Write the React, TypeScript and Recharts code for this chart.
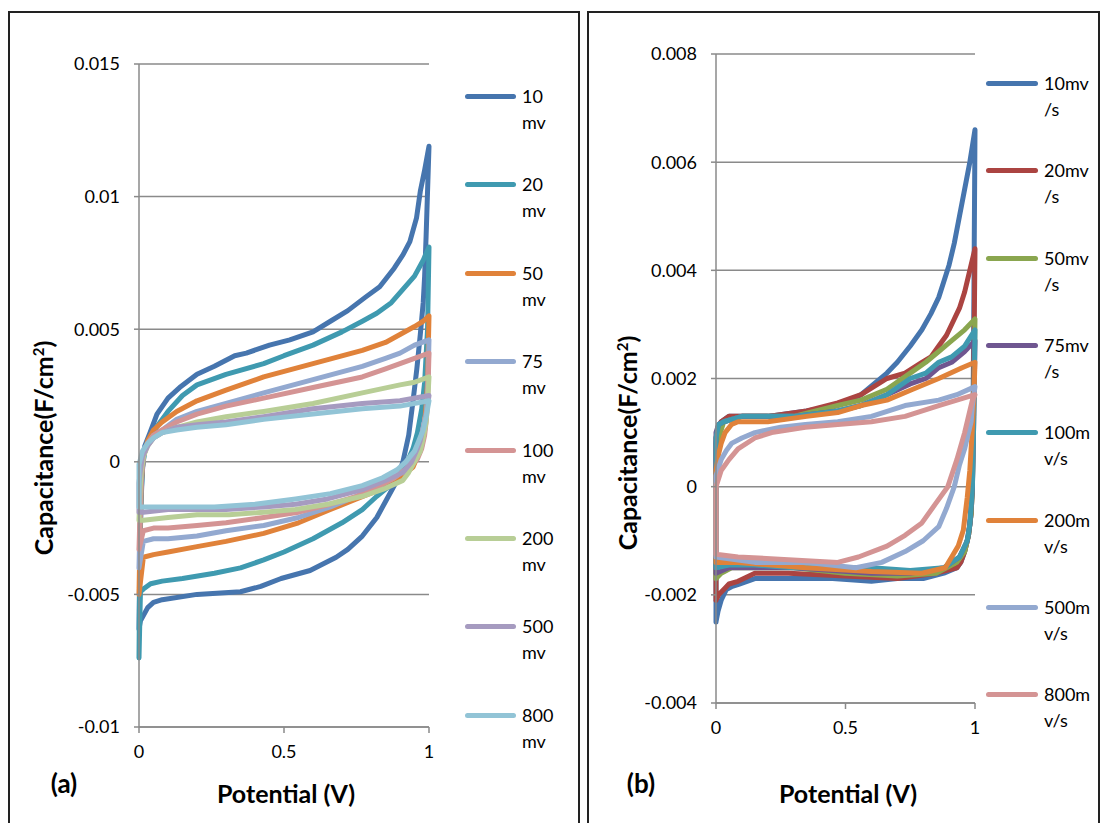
import React from "react";
import { LineChart, Line, XAxis, YAxis, CartesianGrid } from "recharts";

type Pt = [number, number];

// panel (a): scan rates in mV
const leftNames = [
  ["10", "mv"], ["20", "mv"], ["50", "mv"], ["75", "mv"],
  ["100", "mv"], ["200", "mv"], ["500", "mv"], ["800", "mv"],
];
const leftColors = ["#4675AE", "#3F9AB0", "#E0823A", "#93A9D0", "#D49494", "#B8CE96", "#A69BC0", "#92C4D6"];

const a10: Pt[] = [[0,-0.0063],[0.003,-0.0035],[0.007,-0.0015],[0.012,-0.0003],[0.02,0.0006],[0.038,0.0011],[0.062,0.0018],[0.1,0.0024],[0.14,0.0028],[0.2,0.0033],[0.26,0.0036],[0.33,0.004],[0.37,0.0041],[0.45,0.0044],[0.52,0.0046],[0.6,0.0049],[0.66,0.0053],[0.72,0.0057],[0.78,0.0062],[0.83,0.0066],[0.88,0.0073],[0.91,0.0078],[0.934,0.0083],[0.957,0.0092],[0.97,0.0102],[0.985,0.011],[1,0.0119],[0.99,0.0085],[0.985,0.007],[0.98,0.006],[0.97,0.0048],[0.958,0.0035],[0.945,0.0023],[0.93,0.001],[0.91,0],[0.885,-0.0008],[0.86,-0.0013],[0.82,-0.0021],[0.77,-0.0028],[0.72,-0.0033],[0.68,-0.0036],[0.59,-0.0041],[0.49,-0.0044],[0.42,-0.0047],[0.35,-0.0049],[0.2,-0.005],[0.08,-0.0052],[0.05,-0.0053],[0.03,-0.0055],[0.015,-0.0058],[0.005,-0.006],[0,-0.0063]];
const a20: Pt[] = [[0,-0.0074],[0.003,-0.0035],[0.007,-0.0013],[0.012,-0.0002],[0.02,0.0004],[0.035,0.0008],[0.06,0.0013],[0.1,0.0019],[0.15,0.0025],[0.2,0.0029],[0.3,0.0033],[0.43,0.0037],[0.5,0.004],[0.6,0.0044],[0.7,0.0049],[0.77,0.0053],[0.82,0.0056],[0.87,0.006],[0.91,0.0065],[0.95,0.007],[0.98,0.0076],[1,0.0081],[0.995,0.005],[0.99,0.004],[0.985,0.003],[0.975,0.002],[0.96,0.0011],[0.945,0.0005],[0.925,0],[0.9,-0.0005],[0.865,-0.0009],[0.82,-0.0013],[0.77,-0.0018],[0.7,-0.0023],[0.6,-0.0029],[0.5,-0.0034],[0.43,-0.0037],[0.35,-0.004],[0.26,-0.0042],[0.15,-0.0044],[0.08,-0.0045],[0.04,-0.0046],[0.015,-0.0048],[0.005,-0.0049],[0,-0.0074]];
const a50: Pt[] = [[0,-0.005],[0.004,-0.0025],[0.008,-0.0008],[0.015,0.0002],[0.03,0.0008],[0.05,0.0012],[0.08,0.0015],[0.13,0.0019],[0.2,0.0023],[0.3,0.0027],[0.43,0.0032],[0.6,0.0037],[0.77,0.0042],[0.85,0.0045],[0.9,0.0048],[0.95,0.0051],[0.98,0.0053],[1,0.0055],[0.995,0.003],[0.99,0.0021],[0.985,0.0015],[0.975,0.0008],[0.96,0.0002],[0.945,-0.0002],[0.9,-0.0006],[0.83,-0.00105],[0.75,-0.0014],[0.66,-0.0018],[0.55,-0.0023],[0.43,-0.0027],[0.3,-0.003],[0.2,-0.0032],[0.1,-0.0034],[0.05,-0.0035],[0.015,-0.0036],[0,-0.005]];
const a75: Pt[] = [[0,-0.004],[0.004,-0.002],[0.008,-0.0006],[0.015,0.0002],[0.03,0.0007],[0.05,0.001],[0.08,0.0012],[0.13,0.0016],[0.2,0.0019],[0.3,0.0022],[0.43,0.0026],[0.6,0.0031],[0.77,0.0036],[0.85,0.0039],[0.9,0.0041],[0.95,0.0044],[1,0.0046],[0.995,0.0025],[0.99,0.0017],[0.985,0.0012],[0.975,0.0006],[0.96,0.0002],[0.93,-0.0002],[0.88,-0.0006],[0.83,-0.0009],[0.75,-0.0013],[0.66,-0.0017],[0.55,-0.0021],[0.43,-0.0024],[0.3,-0.0026],[0.2,-0.0028],[0.1,-0.0029],[0.05,-0.0029],[0.015,-0.003],[0,-0.004]];
const a100: Pt[] = [[0,-0.0033],[0.004,-0.0017],[0.008,-0.0005],[0.015,0.0002],[0.03,0.0007],[0.05,0.001],[0.08,0.0012],[0.13,0.0015],[0.2,0.0018],[0.3,0.0021],[0.43,0.0024],[0.6,0.0028],[0.77,0.0032],[0.85,0.0035],[0.9,0.0037],[0.95,0.0039],[1,0.0041],[0.995,0.0022],[0.99,0.0015],[0.985,0.001],[0.975,0.0005],[0.96,0.0001],[0.93,-0.0002],[0.88,-0.0006],[0.83,-0.0009],[0.75,-0.0013],[0.66,-0.0016],[0.55,-0.0019],[0.43,-0.0021],[0.3,-0.0023],[0.2,-0.0024],[0.1,-0.0025],[0.05,-0.0025],[0.015,-0.0026],[0,-0.0033]];
const a200: Pt[] = [[0,-0.0022],[0.004,-0.001],[0.008,-0.0003],[0.015,0.0002],[0.03,0.0006],[0.05,0.0009],[0.08,0.0011],[0.13,0.0013],[0.2,0.0015],[0.3,0.0017],[0.43,0.0019],[0.6,0.0022],[0.77,0.0026],[0.9,0.0029],[0.95,0.003],[1,0.0032],[0.995,0.0022],[0.99,0.0015],[0.98,0.0009],[0.97,0.0004],[0.95,0],[0.93,-0.0004],[0.91,-0.0007],[0.85,-0.001],[0.77,-0.0013],[0.65,-0.0016],[0.54,-0.0018],[0.43,-0.0019],[0.31,-0.002],[0.2,-0.002],[0.1,-0.0021],[0.015,-0.0022],[0,-0.0022]];
const a500: Pt[] = [[0,-0.0019],[0,-0.0008],[0.005,-0.0003],[0.012,0.0002],[0.03,0.0006],[0.05,0.0009],[0.08,0.0011],[0.13,0.0013],[0.2,0.0014],[0.3,0.0015],[0.43,0.0017],[0.6,0.002],[0.77,0.0022],[0.9,0.0023],[1,0.0025],[0.99,0.0018],[0.98,0.0013],[0.97,0.0008],[0.96,0.0005],[0.94,0],[0.91,-0.0004],[0.85,-0.0007],[0.77,-0.00105],[0.65,-0.0014],[0.54,-0.0016],[0.43,-0.0017],[0.3,-0.0018],[0.1,-0.0018],[0.015,-0.0019],[0,-0.0019]];
const a800: Pt[] = [[0,-0.0017],[0,-0.0001],[0.005,0.0001],[0.012,0.0004],[0.03,0.0007],[0.05,0.0009],[0.08,0.0011],[0.13,0.0012],[0.2,0.0013],[0.3,0.0014],[0.43,0.0016],[0.6,0.0018],[0.77,0.002],[0.9,0.0021],[1,0.0023],[0.99,0.0017],[0.98,0.0012],[0.965,0.0008],[0.95,0.0004],[0.92,0],[0.89,-0.0003],[0.84,-0.0006],[0.77,-0.0009],[0.66,-0.0012],[0.54,-0.0014],[0.4,-0.0016],[0.26,-0.0017],[0.05,-0.0017],[0,-0.0017]];
const leftSeries = [a10, a20, a50, a75, a100, a200, a500, a800];
const leftTicks = [-0.01, -0.005, 0, 0.005, 0.01, 0.015];

// panel (b): scan rates in mV/s
const rightNames = [
  ["10mv", "/s"], ["20mv", "/s"], ["50mv", "/s"], ["75mv", "/s"],
  ["100m", "v/s"], ["200m", "v/s"], ["500m", "v/s"], ["800m", "v/s"],
];
const rightColors = ["#4675AE", "#AB4441", "#8AA64F", "#6F5690", "#3F9AB0", "#E0823A", "#93A9D0", "#D49494"];

const b10: Pt[] = [[0,-0.0025],[0,0.0008],[0.008,0.0011],[0.02,0.0012],[0.05,0.0013],[0.2,0.0013],[0.35,0.0014],[0.47,0.0015],[0.52,0.0016],[0.56,0.0017],[0.61,0.0019],[0.66,0.0021],[0.7,0.0023],[0.75,0.0026],[0.795,0.0029],[0.83,0.0032],[0.86,0.0035],[0.88,0.0038],[0.9,0.0041],[0.92,0.0045],[0.94,0.005],[0.96,0.0055],[0.98,0.006],[1,0.0066],[0.995,0.003],[0.99,0],[0.985,-0.0005],[0.975,-0.0009],[0.96,-0.0012],[0.945,-0.0014],[0.93,-0.0015],[0.88,-0.0016],[0.8,-0.0017],[0.7,-0.0017],[0.6,-0.00175],[0.45,-0.0017],[0.3,-0.0017],[0.15,-0.0017],[0.09,-0.0018],[0.06,-0.00185],[0.04,-0.0019],[0.02,-0.0021],[0.008,-0.0023],[0,-0.0025]];
const b20: Pt[] = [[0,-0.0021],[0,0.0009],[0.008,0.0011],[0.02,0.0012],[0.05,0.0013],[0.2,0.0013],[0.35,0.0014],[0.47,0.00155],[0.56,0.0017],[0.66,0.002],[0.73,0.0021],[0.795,0.0023],[0.83,0.0024],[0.86,0.0026],[0.89,0.0028],[0.92,0.0031],[0.94,0.0033],[0.96,0.0036],[0.98,0.004],[1,0.0044],[0.995,0.002],[0.99,0],[0.985,-0.0005],[0.975,-0.0009],[0.96,-0.0012],[0.945,-0.0014],[0.93,-0.0015],[0.85,-0.0016],[0.7,-0.0017],[0.5,-0.00165],[0.28,-0.0016],[0.15,-0.0016],[0.085,-0.00175],[0.05,-0.0018],[0.03,-0.0019],[0.01,-0.002],[0,-0.0021]];
const b50: Pt[] = [[0,-0.0017],[0,-0.0001],[0.005,0.0006],[0.01,0.0009],[0.03,0.0012],[0.1,0.0013],[0.3,0.0013],[0.47,0.0015],[0.56,0.0016],[0.66,0.0018],[0.75,0.0021],[0.81,0.0023],[0.86,0.0025],[0.91,0.0027],[0.96,0.0029],[1,0.0031],[0.995,0.0015],[0.99,0],[0.985,-0.0005],[0.975,-0.0009],[0.96,-0.0012],[0.93,-0.0014],[0.85,-0.0016],[0.7,-0.00165],[0.5,-0.0016],[0.3,-0.0015],[0.15,-0.0015],[0.06,-0.0015],[0.02,-0.0016],[0,-0.0017]];
const b75: Pt[] = [[0,-0.0016],[0,0.001],[0.01,0.00115],[0.03,0.0012],[0.1,0.0013],[0.3,0.0013],[0.47,0.0014],[0.56,0.0015],[0.66,0.0017],[0.75,0.0019],[0.81,0.002],[0.86,0.0022],[0.91,0.0023],[0.96,0.0025],[1,0.0027],[0.995,0.0012],[0.99,0],[0.98,-0.0007],[0.97,-0.001],[0.94,-0.0013],[0.88,-0.0015],[0.75,-0.0016],[0.6,-0.0016],[0.45,-0.00155],[0.3,-0.0015],[0.15,-0.0015],[0.05,-0.0015],[0,-0.0016]];
const b100: Pt[] = [[0,-0.0015],[0,0.0009],[0.01,0.00115],[0.03,0.0012],[0.1,0.0013],[0.3,0.0013],[0.47,0.0014],[0.56,0.0015],[0.66,0.0017],[0.75,0.002],[0.81,0.0021],[0.86,0.0023],[0.91,0.0024],[0.96,0.0026],[1,0.0029],[0.995,0.0012],[0.99,0],[0.98,-0.0007],[0.97,-0.001],[0.94,-0.0013],[0.88,-0.0015],[0.75,-0.00155],[0.6,-0.0015],[0.45,-0.0015],[0.3,-0.0015],[0.15,-0.00145],[0.05,-0.00145],[0,-0.0015]];
const b200: Pt[] = [[0,-0.0014],[0,0.0003],[0.01,0.0006],[0.02,0.0008],[0.035,0.001],[0.06,0.00115],[0.085,0.0012],[0.2,0.0012],[0.35,0.0013],[0.47,0.00137],[0.56,0.0015],[0.66,0.0016],[0.76,0.0018],[0.86,0.002],[0.95,0.0022],[1,0.0023],[0.995,0.0016],[0.99,0.0011],[0.98,0.0003],[0.97,-0.0002],[0.955,-0.0008],[0.935,-0.0011],[0.91,-0.0013],[0.885,-0.0015],[0.795,-0.0016],[0.6,-0.00157],[0.345,-0.0015],[0.085,-0.0014],[0,-0.0014]];
const b500: Pt[] = [[0,-0.0013],[0,0.0002],[0.01,0.00035],[0.02,0.0005],[0.04,0.00067],[0.06,0.0008],[0.1,0.0009],[0.15,0.001],[0.25,0.0011],[0.345,0.00115],[0.47,0.0012],[0.6,0.0013],[0.73,0.0015],[0.86,0.0016],[0.93,0.0017],[1,0.00185],[0.99,0.0015],[0.985,0.0012],[0.97,0.0009],[0.96,0.0007],[0.94,0.0004],[0.92,0],[0.89,-0.0004],[0.86,-0.00074],[0.8,-0.001],[0.73,-0.0012],[0.64,-0.0014],[0.54,-0.0015],[0.345,-0.0014],[0.15,-0.0014],[0,-0.0013]];
const b800: Pt[] = [[0,-0.00125],[0,0],[0.02,0.0003],[0.05,0.0005],[0.085,0.0007],[0.15,0.0009],[0.215,0.001],[0.345,0.0011],[0.47,0.00115],[0.6,0.0012],[0.73,0.0013],[0.86,0.0015],[0.93,0.0016],[1,0.0017],[0.99,0.0016],[0.98,0.0014],[0.96,0.001],[0.93,0.0005],[0.895,0],[0.85,-0.0003],[0.795,-0.00067],[0.73,-0.0009],[0.66,-0.0011],[0.55,-0.0013],[0.47,-0.0014],[0.28,-0.00135],[0.085,-0.0013],[0,-0.00125]];
const rightSeries = [b10, b20, b50, b75, b100, b200, b500, b800];
const rightTicks = [-0.004, -0.002, 0, 0.002, 0.004, 0.006, 0.008];

const xTicks = [0, 0.5, 1];

const FONT = "Lato, 'Open Sans', sans-serif";
const GRID = "#8a8a8a";

const fmt = (v: number) => String(Number(v.toFixed(4)));

const toRows = (pts: Pt[]) => pts.map(([x, y]) => ({ x, y }));

type PanelProps = {
  left: number;
  width: number;
  margin: { top: number; right: number; bottom: number; left: number };
  series: Pt[][];
  colors: string[];
  names: string[][];
  yTicks: number[];
  legendX: number;
  legendY: number;
  legendStep: number;
  lineLen: number;
  titleX: number;
  titleY: number;
  xLabelX: number;
  tag: string;
  tagX: number;
};

const Panel = (p: PanelProps) => {
  const tick = { fill: "#000", fontSize: 18, fontFamily: FONT };
  return (
    <div style={{ position: "absolute", left: p.left, top: 0, width: p.width, height: 823 }}>
      <LineChart width={p.width} height={823} margin={p.margin}>
        <CartesianGrid vertical={false} stroke={GRID} strokeWidth={1.5} />
        <XAxis
          dataKey="x"
          type="number"
          domain={[0, 1]}
          ticks={xTicks}
          tickFormatter={fmt}
          stroke={GRID}
          strokeWidth={1.5}
          tickSize={6}
          tickMargin={12}
          tick={tick}
          height={30}
        />
        <YAxis
          type="number"
          domain={[p.yTicks[0], p.yTicks[p.yTicks.length - 1]]}
          ticks={p.yTicks}
          tickFormatter={fmt}
          stroke={GRID}
          strokeWidth={1.5}
          tickSize={5}
          tickMargin={14}
          tick={tick}
          width={60}
          interval={0}
        />
        {p.series.map((s, i) => (
          <Line
            key={i}
            data={toRows(s)}
            dataKey="y"
            type="linear"
            stroke={p.colors[i]}
            strokeWidth={5}
            strokeLinejoin="round"
            strokeLinecap="round"
            dot={false}
            activeDot={false}
            isAnimationActive={false}
          />
        ))}
      </LineChart>

      {/* legend */}
      {p.names.map((n, i) => (
        <div
          key={i}
          style={{ position: "absolute", left: p.legendX, top: p.legendY + i * p.legendStep - 12, fontFamily: FONT, fontSize: 18, lineHeight: "26px" }}
        >
          <div style={{ position: "absolute", left: 0, top: 10, width: p.lineLen, height: 5, borderRadius: 3, background: p.colors[i] }} />
          <div style={{ position: "absolute", left: p.lineLen + 6, top: -1, whiteSpace: "nowrap" }}>
            {n[0]}
            <br />
            {n[1]}
          </div>
        </div>
      ))}

      {/* axis titles */}
      <div
        style={{
          position: "absolute",
          left: p.titleX,
          top: p.titleY,
          transform: "translate(-50%, -50%) rotate(-90deg)",
          fontFamily: FONT,
          fontWeight: 700,
          fontSize: 25,
          whiteSpace: "nowrap",
        }}
      >
        Capacitance(F/cm<sup style={{ fontSize: 15 }}>2</sup>)
      </div>
      <div
        style={{ position: "absolute", left: p.xLabelX, top: 793, transform: "translate(-50%, -50%)", fontFamily: FONT, fontWeight: 700, fontSize: 25, whiteSpace: "nowrap" }}
      >
        Potential (V)
      </div>
      <div
        style={{ position: "absolute", left: p.tagX, top: 783, transform: "translate(-50%, -50%)", fontFamily: FONT, fontWeight: 700, fontSize: 26 }}
      >
        {p.tag}
      </div>
    </div>
  );
};

export default function App() {
  return (
    <div style={{ position: "absolute", left: 0, top: 0, width: 1100, height: 823, background: "#fff", overflow: "hidden" }}>
      <div style={{ position: "absolute", left: 8, top: 11, width: 568, height: 830, border: "2px solid #222" }} />
      <div style={{ position: "absolute", left: 587, top: 11, width: 509, height: 830, border: "2px solid #222" }} />
      <Panel
        left={0}
        width={580}
        margin={{ top: 64, right: 151, bottom: 66, left: 79 }}
        series={leftSeries}
        colors={leftColors}
        names={leftNames}
        yTicks={leftTicks}
        legendX={465}
        legendY={96}
        legendStep={88.4}
        lineLen={51}
        titleX={43}
        titleY={448}
        xLabelX={286}
        tag="(a)"
        tagX={64}
      />
      <Panel
        left={580}
        width={520}
        margin={{ top: 54, right: 125, bottom: 90, left: 76 }}
        series={rightSeries}
        colors={rightColors}
        names={rightNames}
        yTicks={rightTicks}
        legendX={406}
        legendY={83}
        legendStep={87.3}
        lineLen={52}
        titleX={47}
        titleY={443}
        xLabelX={268}
        tag="(b)"
        tagX={61}
      />
    </div>
  );
}
